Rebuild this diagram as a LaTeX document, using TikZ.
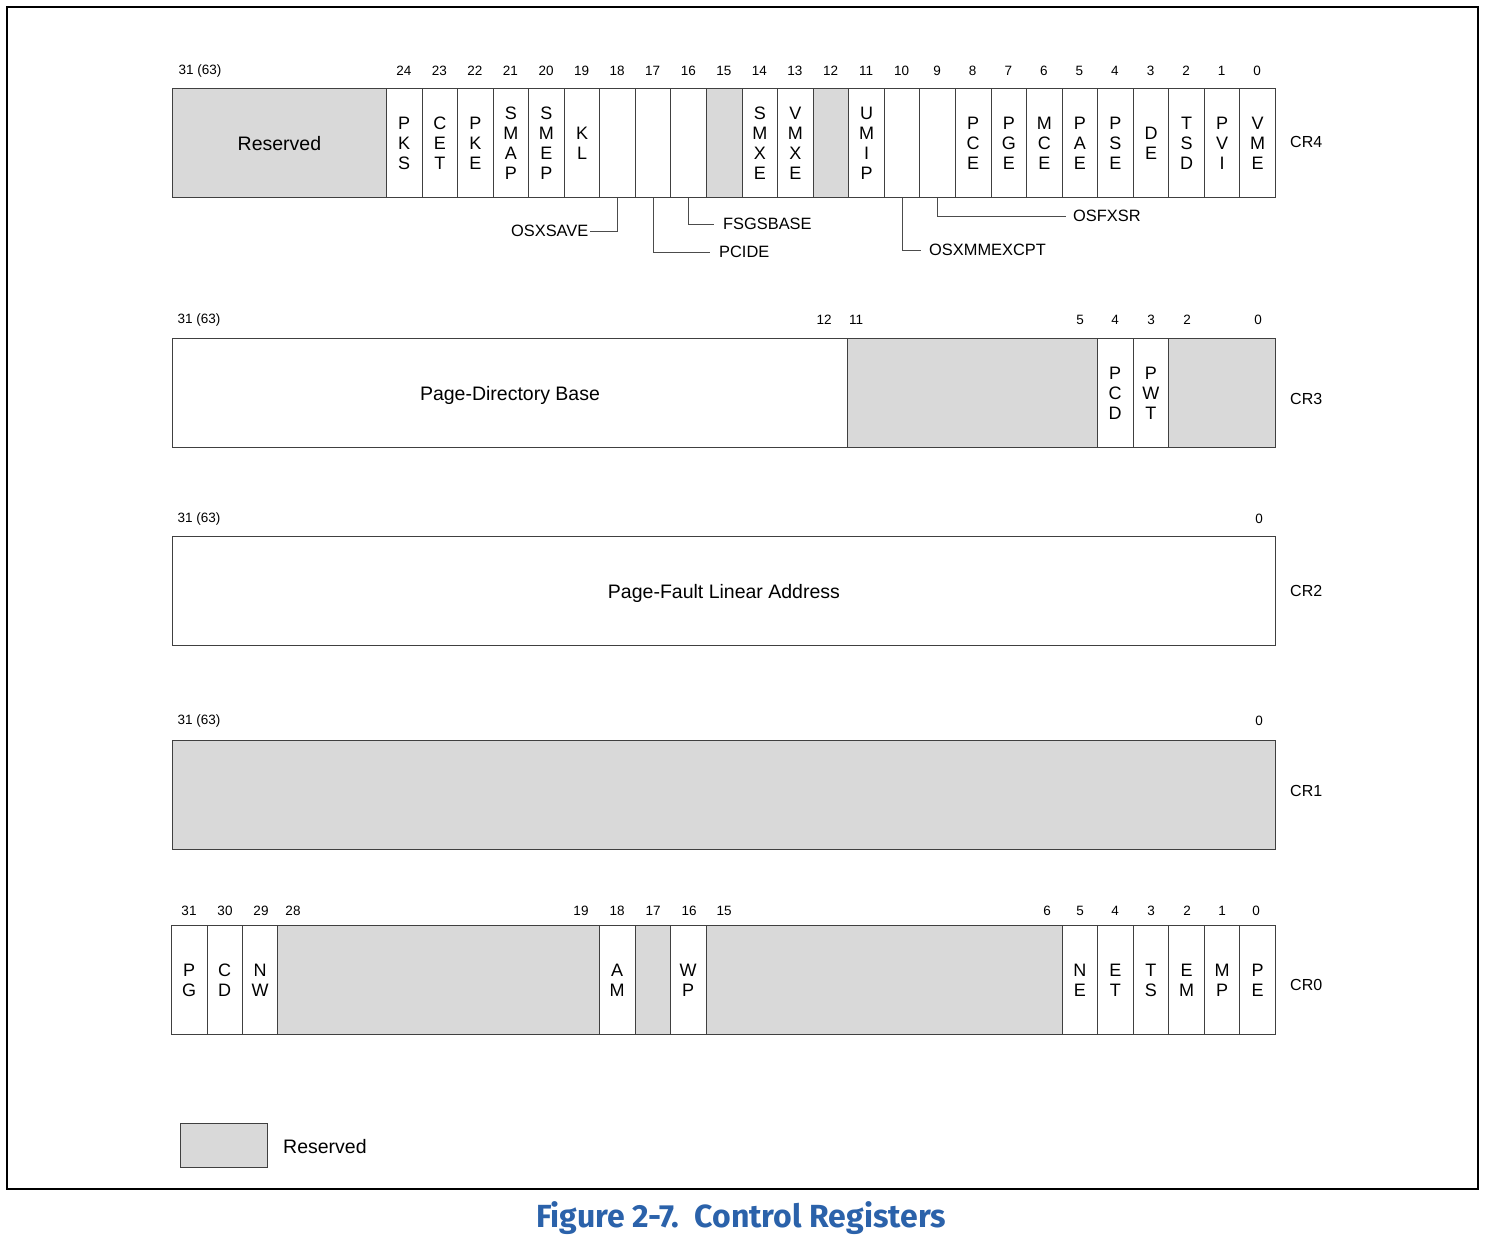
\documentclass[tikz,border=0pt]{standalone}
\usepackage{fontspec}
\setmainfont{Liberation Sans}
\newfontfamily\titlefont{Fira Sans}
\usetikzlibrary{positioning}
\definecolor{resgray}{RGB}{217,217,217}
\definecolor{titleblue}{RGB}{43,98,170}
\begin{document}
\begin{tikzpicture}[x=1pt,y=-1pt,
  cell/.style={draw=black!75, line width=0.9pt, anchor=north west, minimum height=109, inner sep=0pt, align=center, font=\fontsize{18}{20}\selectfont},
  bitn/.style={font=\fontsize{13.5}{15}\selectfont, inner sep=0pt},
  reglab/.style={font=\fontsize{16}{18}\selectfont, inner sep=0pt, anchor=west},
  callout/.style={font=\fontsize{16.4}{18}\selectfont, inner ysep=2pt},
  conn/.style={draw=black!70, line width=0.8pt},
  bigtext/.style={font=\fontsize{19.5}{22}\selectfont, text depth=0pt}
]
\useasboundingbox (0,0) rectangle (1488,1252);
\node[draw=black, line width=1.6pt, anchor=north west, minimum width=1471, minimum height=1182, inner sep=0pt] (frame) at (6,6) {};
\def\cw{35.56}
% ---------------- CR4 ----------------
\node[cell, fill=resgray, minimum width=214, bigtext] (r4res) at (172,88) {Reserved};
\node[bitn] (b4top) at (200,71) {31 (63)};
\foreach \i/\b/\t/\f in {0/24/{P\\K\\S}/white,1/23/{C\\E\\T}/white,2/22/{P\\K\\E}/white,3/21/{S\\M\\A\\P}/white,4/20/{S\\M\\E\\P}/white,5/19/{K\\L}/white,6/18/{}/white,7/17/{}/white,8/16/{}/white,9/15/{}/resgray,10/14/{S\\M\\X\\E}/white,11/13/{V\\M\\X\\E}/white,12/12/{}/resgray,13/11/{U\\M\\I\\P}/white,14/10/{}/white,15/9/{}/white,16/8/{P\\C\\E}/white,17/7/{P\\G\\E}/white,18/6/{M\\C\\E}/white,19/5/{P\\A\\E}/white,20/4/{P\\S\\E}/white,21/3/{D\\E}/white,22/2/{T\\S\\D}/white,23/1/{P\\V\\I}/white,24/0/{V\\M\\E}/white}{
  \node[cell, fill=\f, minimum width=\cw] (r4c\b) at ({386+\i*\cw},88) {\t};
  \node[bitn] (b4n\b) at ({386+(\i+0.5)*\cw},71) {\b};
}
\node[reglab] (cr4) at (1290,142) {CR4};
% callouts
\node[callout, anchor=east, inner xsep=1.5pt] (osxsave) at (590,231) {OSXSAVE};
\node[callout, anchor=west, inner xsep=9pt] (pcide) at (710,252) {PCIDE};
\node[callout, anchor=west, inner xsep=9pt] (fsgs) at (714,224) {FSGSBASE};
\node[callout, anchor=west, inner xsep=8pt] (osxmm) at (921,250) {OSXMMEXCPT};
\node[callout, anchor=west, inner xsep=7pt] (osfxsr) at (1066,216) {OSFXSR};
\draw[conn] (r4c18.south) |- (osxsave.east);
\draw[conn] (r4c17.south) |- (pcide.west);
\draw[conn] (r4c16.south) |- (fsgs.west);
\draw[conn] (r4c10.south) |- (osxmm.west);
\draw[conn] (r4c9.south) |- (osfxsr.west);
% ---------------- CR3 ----------------
\node[cell, fill=white, minimum width=675, bigtext] (r3pdb) at (172,338) {Page-Directory Base};
\node[cell, fill=resgray, minimum width=250] (r3res1) at (847,338) {};
\node[cell, fill=white, minimum width=\cw] (r3pcd) at (1097,338) {P\\C\\D};
\node[cell, fill=white, minimum width=\cw] (r3pwt) at (1132.6,338) {P\\W\\T};
\node[cell, fill=resgray, minimum width=107] (r3res2) at (1168,338) {};
\node[bitn] (b3top) at (199,320) {31 (63)};
\node[bitn] (b3n12) at (824,320) {12};
\node[bitn] (b3n11) at (856,320) {11};
\node[bitn] (b3n5) at (1080,320) {5};
\node[bitn] (b3n4) at (1115,320) {4};
\node[bitn] (b3n3) at (1151,320) {3};
\node[bitn] (b3n2) at (1187,320) {2};
\node[bitn] (b3n0) at (1258,320) {0};
\node[reglab] (cr3) at (1290,399) {CR3};
% ---------------- CR2 ----------------
\node[cell, fill=white, minimum width=1103, bigtext] (r2) at (172,536) {Page-Fault Linear Address};
\node[bitn] (b2top) at (199,519) {31 (63)};
\node[bitn] (b2n0) at (1259,519) {0};
\node[reglab] (cr2) at (1290,591) {CR2};
% ---------------- CR1 ----------------
\node[cell, fill=resgray, minimum width=1103] (r1) at (172,740) {};
\node[bitn] (b1top) at (199,721) {31 (63)};
\node[bitn] (b1n0) at (1259,721) {0};
\node[reglab] (cr1) at (1290,791) {CR1};
% ---------------- CR0 ----------------
\node[cell, fill=white, minimum width=\cw] (r0pg) at (171,925) {P\\G};
\node[cell, fill=white, minimum width=\cw] (r0cd) at (206.5,925) {C\\D};
\node[cell, fill=white, minimum width=\cw] (r0nw) at (242,925) {N\\W};
\node[cell, fill=resgray, minimum width=322] (r0res1) at (277,925) {};
\node[cell, fill=white, minimum width=\cw] (r0am) at (599,925) {A\\M};
\node[cell, fill=resgray, minimum width=\cw] (r0res2) at (634.5,925) {};
\node[cell, fill=white, minimum width=\cw] (r0wp) at (670,925) {W\\P};
\node[cell, fill=resgray, minimum width=356] (r0res3) at (705.5,925) {};
\foreach \i/\b/\t in {0/5/{N\\E},1/4/{E\\T},2/3/{T\\S},3/2/{E\\M},4/1/{M\\P},5/0/{P\\E}}{
  \node[cell, fill=white, minimum width=\cw] (r0c\b) at ({1061.6+\i*\cw},925) {\t};
}
\node[bitn] (b0n31) at (189,911) {31};
\node[bitn] (b0n30) at (225,911) {30};
\node[bitn] (b0n29) at (261,911) {29};
\node[bitn] (b0n28) at (293,911) {28};
\node[bitn] (b0n19) at (581,911) {19};
\node[bitn] (b0n18) at (617,911) {18};
\node[bitn] (b0n17) at (653,911) {17};
\node[bitn] (b0n16) at (689,911) {16};
\node[bitn] (b0n15) at (724,911) {15};
\node[bitn] (b0n6) at (1047,911) {6};
\node[bitn] (b0n5) at (1080,911) {5};
\node[bitn] (b0n4) at (1115,911) {4};
\node[bitn] (b0n3) at (1151,911) {3};
\node[bitn] (b0n2) at (1187,911) {2};
\node[bitn] (b0n1) at (1222,911) {1};
\node[bitn] (b0n0) at (1256,911) {0};
\node[reglab] (cr0) at (1290,985) {CR0};
% ---------------- Legend ----------------
\node[draw=black!75, line width=0.9pt, fill=resgray, anchor=north west, minimum width=87, minimum height=44, inner sep=0pt] (legbox) at (180,1123) {};
\node[font=\fontsize{19.5}{22}\selectfont, anchor=west, inner sep=0pt] (legtext) at (283,1147) {Reserved};
% ---------------- Title ----------------
\node[text=titleblue, inner sep=0pt] (title) at (741,1218) {\titlefont\bfseries\fontsize{32}{36}\selectfont Figure 2-7.\ \ Control Registers};
\end{tikzpicture}
\end{document}
